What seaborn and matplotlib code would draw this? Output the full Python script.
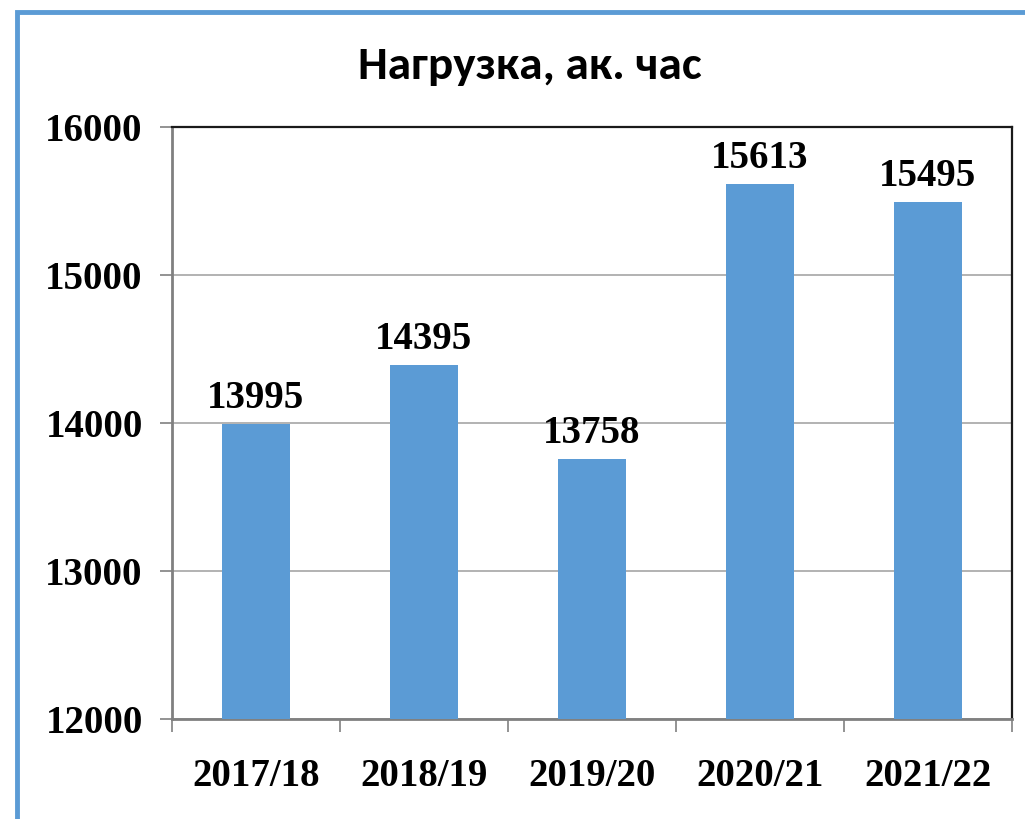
#!/usr/bin/env python3
"""Bar chart: teaching load (academic hours) by academic year."""

import matplotlib.pyplot as plt
import pandas as pd
import seaborn as sns
from matplotlib.patches import Rectangle

years = ["2017/18", "2018/19", "2019/20", "2020/21", "2021/22"]
hours = [13995, 14395, 13758, 15613, 15495]
y_ticks = [12000, 13000, 14000, 15000, 16000]

BAR_COLOR = "#5B9BD5"
FRAME_COLOR = "#5B9BD5"
SERIF = "Liberation Serif"
LABEL_KW = dict(fontsize=28, fontweight="bold", family=SERIF, color="black")

sns.set_theme(style="white")

df = pd.DataFrame({"year": years, "hours": hours})

fig = plt.figure(figsize=(10.25, 8.19), dpi=100)
ax = fig.add_axes([0.1678, 0.1221, 0.8195, 0.7229])

sns.barplot(data=df, x="year", y="hours", color=BAR_COLOR, saturation=1,
            width=0.4, ax=ax, zorder=3, linewidth=0)

ax.set_ylim(y_ticks[0], y_ticks[-1])
ax.set_xlim(-0.5, len(years) - 0.5)
ax.set_yticks(y_ticks)
ax.set_yticklabels([str(t) for t in y_ticks], **LABEL_KW)
ax.set_xticks(range(len(years)))
ax.set_xticklabels(years, **LABEL_KW)
ax.set_xlabel("")
ax.set_ylabel("")

# category boundary ticks on x, like the spreadsheet original
ax.set_xticks([i - 0.5 for i in range(len(years) + 1)], minor=True)
ax.tick_params(axis="x", which="major", bottom=True, length=0, pad=28)
ax.tick_params(axis="x", which="minor", bottom=True, length=9, width=1.2,
               color="#808080")
ax.tick_params(axis="y", which="major", left=True, length=9, width=1.2,
               color="#808080", pad=12)

ax.grid(axis="y", color="#A6A6A6", linewidth=1.2, zorder=0)

for side in ("left", "bottom"):
    ax.spines[side].set_color("#808080")
    ax.spines[side].set_linewidth(2)
for side in ("top", "right"):
    ax.spines[side].set_visible(True)
    ax.spines[side].set_color("#1a1a1a")
    ax.spines[side].set_linewidth(1.6)

ax.bar_label(ax.containers[0], labels=[str(v) for v in hours], padding=5,
             **LABEL_KW)

fig.text(0.517, 0.919, "Нагрузка, ак. час", ha="center", va="center",
         fontsize=34, fontweight="bold", family="Carlito", color="black")

# blue slide frame, only left and top edges are in view
fig.patches.append(Rectangle((17 / 1025, -0.1), 1.2, 1.1 - 12 / 819,
                             transform=fig.transFigure, fill=False,
                             edgecolor=FRAME_COLOR, linewidth=3.5))

fig.savefig("out.png", dpi=100)
